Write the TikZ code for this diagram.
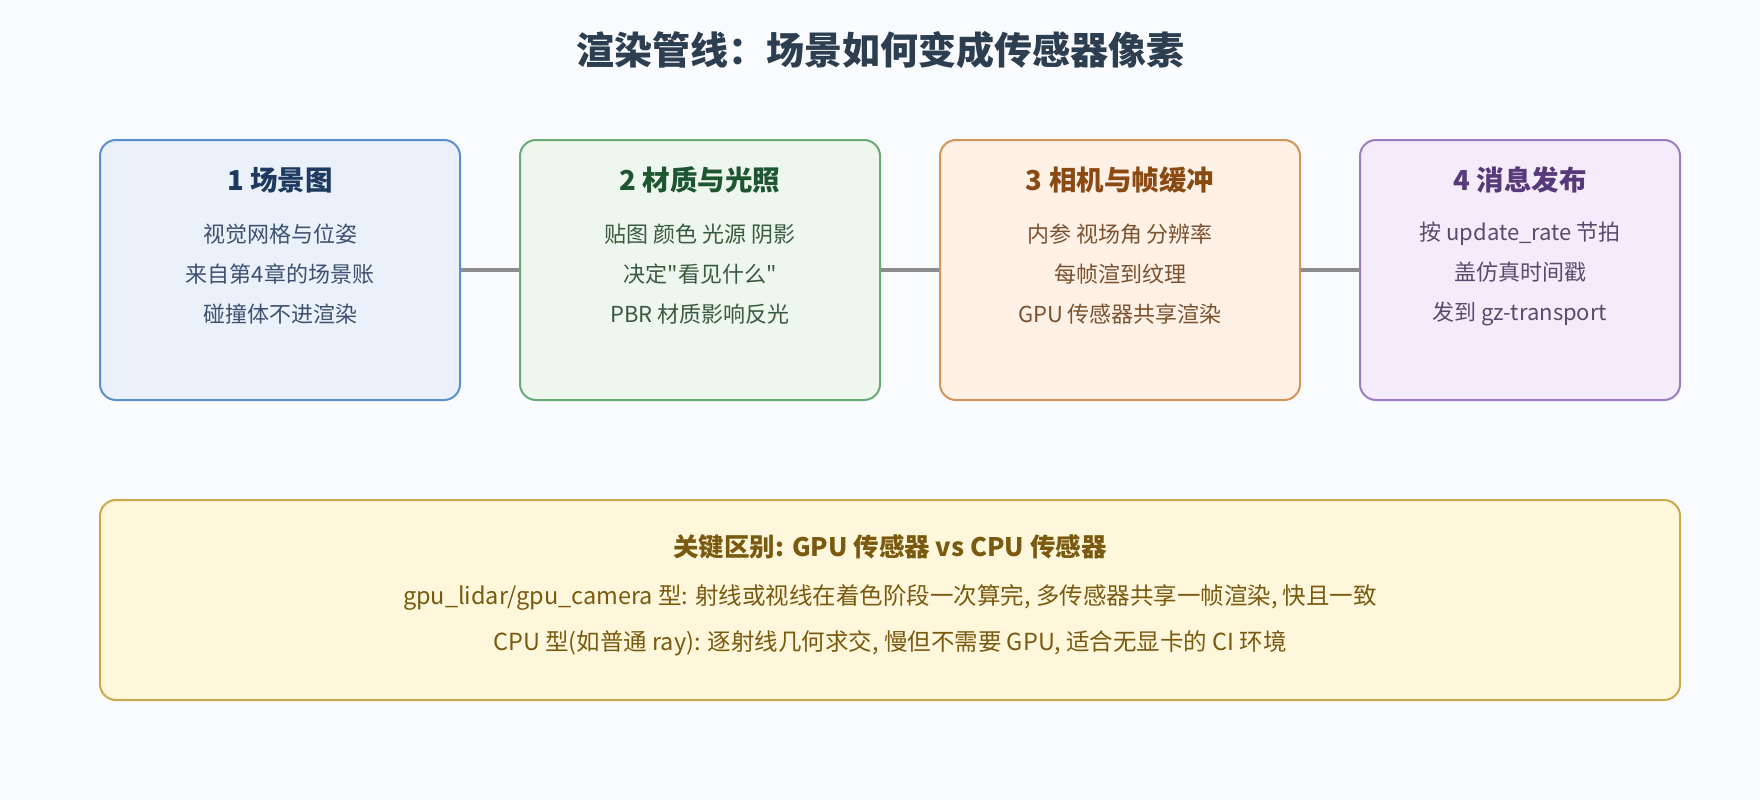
\documentclass[tikz,border=0pt]{standalone}
\usepackage{fontspec}
\setmainfont{Noto Sans CJK SC}
\usetikzlibrary{positioning}

\definecolor{bgcol}{HTML}{F9FBFE}
\definecolor{titlecol}{HTML}{2C3E50}
\definecolor{blueline}{HTML}{5B8FD0}
\definecolor{bluefill}{HTML}{EAF1FB}
\definecolor{bluetext}{HTML}{1F3A5F}
\definecolor{bluebody}{HTML}{3D5170}
\definecolor{greenline}{HTML}{6AAA75}
\definecolor{greenfill}{HTML}{EDF7ED}
\definecolor{greentext}{HTML}{1E5631}
\definecolor{greenbody}{HTML}{3A5A40}
\definecolor{orangeline}{HTML}{D4955A}
\definecolor{orangefill}{HTML}{FFF1E6}
\definecolor{orangetext}{HTML}{8A4A14}
\definecolor{orangebody}{HTML}{7A5230}
\definecolor{purpleline}{HTML}{9B7DC0}
\definecolor{purplefill}{HTML}{F4ECFA}
\definecolor{purpletext}{HTML}{563A7A}
\definecolor{purplebody}{HTML}{5B4A6E}
\definecolor{noteline}{HTML}{C9A94A}
\definecolor{notefill}{HTML}{FFF7DB}
\definecolor{notetext}{HTML}{7A5A10}

\begin{document}
\begin{tikzpicture}[
        x=1pt, y=-1pt,
        % Block styles
        stage/.style={
            rectangle,
            draw=#1line,
            line width=2pt,
            rounded corners=16pt,
            minimum height=260pt,
            minimum width=360pt,
            fill=#1fill
        },
        stagetitle/.style={
            font=\fontsize{27.5}{30}\selectfont\bfseries,
            text=#1text
        },
        stagebody/.style={
            font=\fontsize{22}{40}\selectfont,
            align=center,
            text=#1body
        },
        link/.style={line width=4pt, draw=gray!90}
    ]
    \useasboundingbox[fill=bgcol] (0,0) rectangle (1760,800);

    % Title
    \node[font=\fontsize{38}{42}\selectfont\bfseries, text=titlecol] (title) at (880,50) {渲染管线：场景如何变成传感器像素};

    % Scene graph
    \node[stage=blue] (scene) at (280,270) {};
    \node[stagetitle=blue] (scenet) at ([yshift=-41pt]scene.north) {1 场景图};
    \node[stagebody=blue] (sceneb) at ([yshift=-135pt]scene.north) {视觉网格与位姿\\来自第4章的场景账\\碰撞体不进渲染};

    % Material and lighting
    \node[stage=green] (mat) at (700,270) {};
    \node[stagetitle=green] (matt) at ([yshift=-41pt]mat.north) {2 材质与光照};
    \node[stagebody=green] (matb) at ([yshift=-135pt]mat.north) {贴图 颜色 光源 阴影\\决定\textquotedbl 看见什么\textquotedbl\\PBR 材质影响反光};

    % Camera and frame buffer
    \node[stage=orange] (cam) at (1120,270) {};
    \node[stagetitle=orange] (camt) at ([yshift=-41pt]cam.north) {3 相机与帧缓冲};
    \node[stagebody=orange] (camb) at ([yshift=-135pt]cam.north) {内参 视场角 分辨率\\每帧渲到纹理\\GPU 传感器共享渲染};

    % Message publishing
    \node[stage=purple, minimum width=320pt] (pub) at (1520,270) {};
    \node[stagetitle=purple] (pubt) at ([yshift=-41pt]pub.north) {4 消息发布};
    \node[stagebody=purple] (pubb) at ([yshift=-135pt]pub.north) {按 update\_rate 节拍\\盖仿真时间戳\\发到 gz-transport};

    % Connections
    \draw[link] (scene) -- (mat);
    \draw[link] (mat) -- (cam);
    \draw[link] (cam) -- (pub);

    % Key difference
    \node[rectangle, draw=noteline, line width=2pt, rounded corners=16pt, fill=notefill,
          minimum width=1580pt, minimum height=200pt] (note) at (890,600) {};
    \node[font=\fontsize{25.5}{28}\selectfont\bfseries, text=notetext] (notet) at ([yshift=-48pt]note.north) {关键区别: GPU 传感器 vs CPU 传感器};
    \node[font=\fontsize{23.5}{46}\selectfont, align=center, text=notetext] (noteb) at ([yshift=-121pt]note.north) {gpu\_lidar/gpu\_camera 型: 射线或视线在着色阶段一次算完, 多传感器共享一帧渲染, 快且一致\\CPU 型(如普通 ray): 逐射线几何求交, 慢但不需要 GPU, 适合无显卡的 CI 环境};
\end{tikzpicture}
\end{document}
